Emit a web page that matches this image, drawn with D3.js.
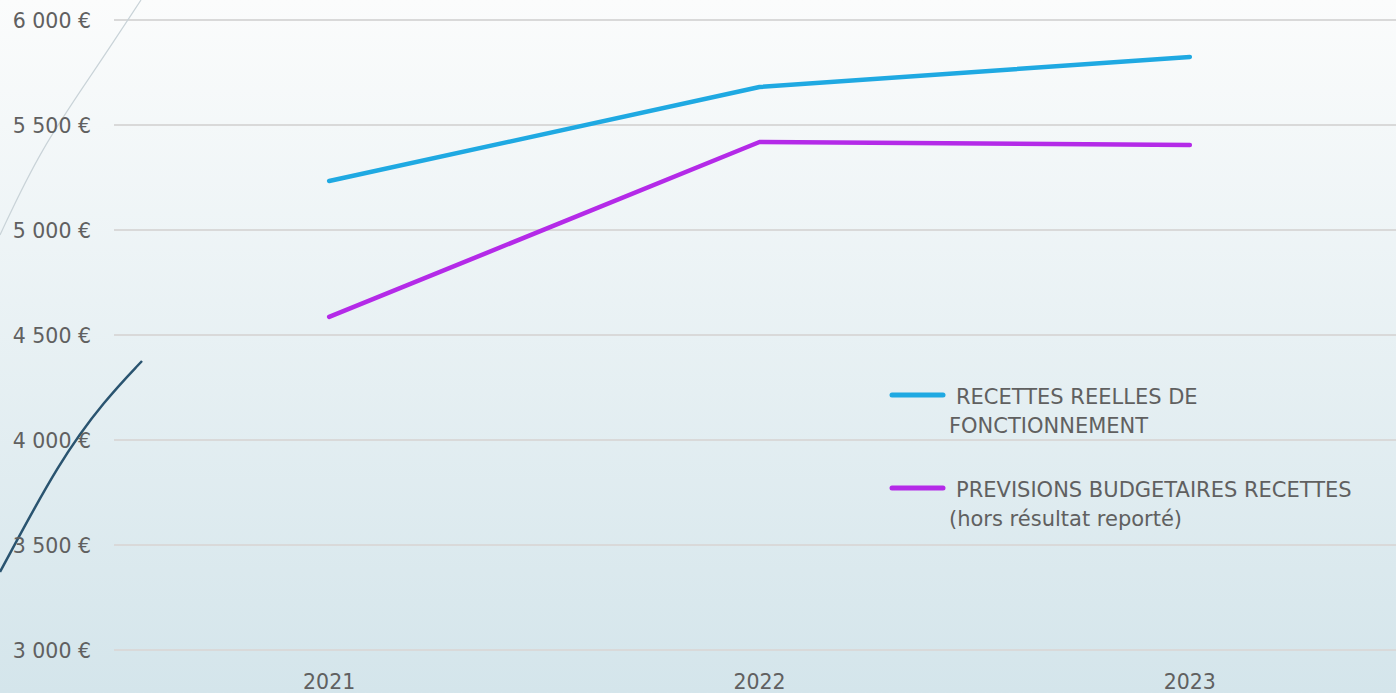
<!DOCTYPE html>
<html>
<head>
<meta charset="utf-8">
<script src="https://cdn.jsdelivr.net/npm/d3@7"></script>
<style>
  html, body { margin: 0; padding: 0; overflow: hidden; }
  svg text { font-family: "DejaVu Sans", sans-serif; fill: #606060; }
</style>
</head>
<body>
<div id="chart"></div>
<script>
// data
var years = ["2021", "2022", "2023"];
var recettesReelles = [5233, 5681, 5824];
var previsions = [4586, 5419, 5405];
var yTicks = [3000, 3500, 4000, 4500, 5000, 5500, 6000];
var seriesNames = [["RECETTES REELLES DE", "FONCTIONNEMENT"], ["PREVISIONS BUDGETAIRES RECETTES", "(hors résultat reporté)"]];
var seriesColors = ["#1fa9e2", "#b42ae8"];

var W = 1396, H = 693;

var svg = d3.select("#chart").append("svg")
  .attr("width", W).attr("height", H);

// background gradient
var grad = svg.append("defs").append("linearGradient")
  .attr("id", "bg").attr("x1", 0).attr("y1", 0).attr("x2", 0).attr("y2", 1);
grad.append("stop").attr("offset", "0%").attr("stop-color", "#fbfcfc");
grad.append("stop").attr("offset", "100%").attr("stop-color", "#d4e5eb");
svg.append("rect").attr("width", W).attr("height", H).attr("fill", "url(#bg)");

var x = d3.scaleBand().domain(years).range([114, 1405]);
var y = d3.scaleLinear().domain([3000, 6000]).range([650, 20]);

// gridlines
svg.append("g").selectAll("line").data(yTicks).join("line")
  .attr("x1", 114).attr("x2", W)
  .attr("y1", d => y(d)).attr("y2", d => y(d))
  .attr("stroke", "#d9d9d9").attr("stroke-width", 2);

// decorative theme curves
var deco = d3.line().curve(d3.curveBasis);
svg.append("path")
  .attr("d", deco([[141, 0], [95, 70], [40, 150], [0, 235]]))
  .attr("fill", "none").attr("stroke", "#c9d3d8").attr("stroke-width", 1.2);
svg.append("path")
  .attr("d", deco([[142, 361], [105, 400], [60, 460], [0, 572]]))
  .attr("fill", "none").attr("stroke", "#2a5470").attr("stroke-width", 2.5);

// y labels
var fmt = d => d3.format(",")(d).replace(",", " ") + " €";
svg.append("g").selectAll("text").data(yTicks).join("text")
  .attr("x", 91).attr("y", d => y(d) + 7.5)
  .attr("text-anchor", "end")
  .style("font-size", "20.5px")
  .text(fmt);

// x labels
svg.append("g").selectAll("text").data(years).join("text")
  .attr("x", d => x(d) + x.bandwidth() / 2).attr("y", 689)
  .attr("text-anchor", "middle")
  .style("font-size", "20.5px")
  .text(d => d);

// lines
var line = d3.line()
  .x((d, i) => x(years[i]) + x.bandwidth() / 2)
  .y(d => y(d));
[recettesReelles, previsions].forEach(function (s, k) {
  svg.append("path").datum(s)
    .attr("d", line)
    .attr("fill", "none")
    .attr("stroke", seriesColors[k])
    .attr("stroke-width", 4.5)
    .attr("stroke-linejoin", "round")
    .attr("stroke-linecap", "round");
});

// legend
var legY = [395, 488];
seriesNames.forEach(function (lines, k) {
  var g = svg.append("g");
  g.append("line")
    .attr("x1", 892).attr("x2", 943)
    .attr("y1", legY[k]).attr("y2", legY[k])
    .attr("stroke", seriesColors[k]).attr("stroke-width", 5)
    .attr("stroke-linecap", "round");
  g.append("text").attr("x", 956).attr("y", legY[k] + 8.5)
    .style("font-size", "21px").text(lines[0]);
  g.append("text").attr("x", 949).attr("y", legY[k] + 37.5)
    .style("font-size", "21px").text(lines[1]);
});
</script>
</body>
</html>
